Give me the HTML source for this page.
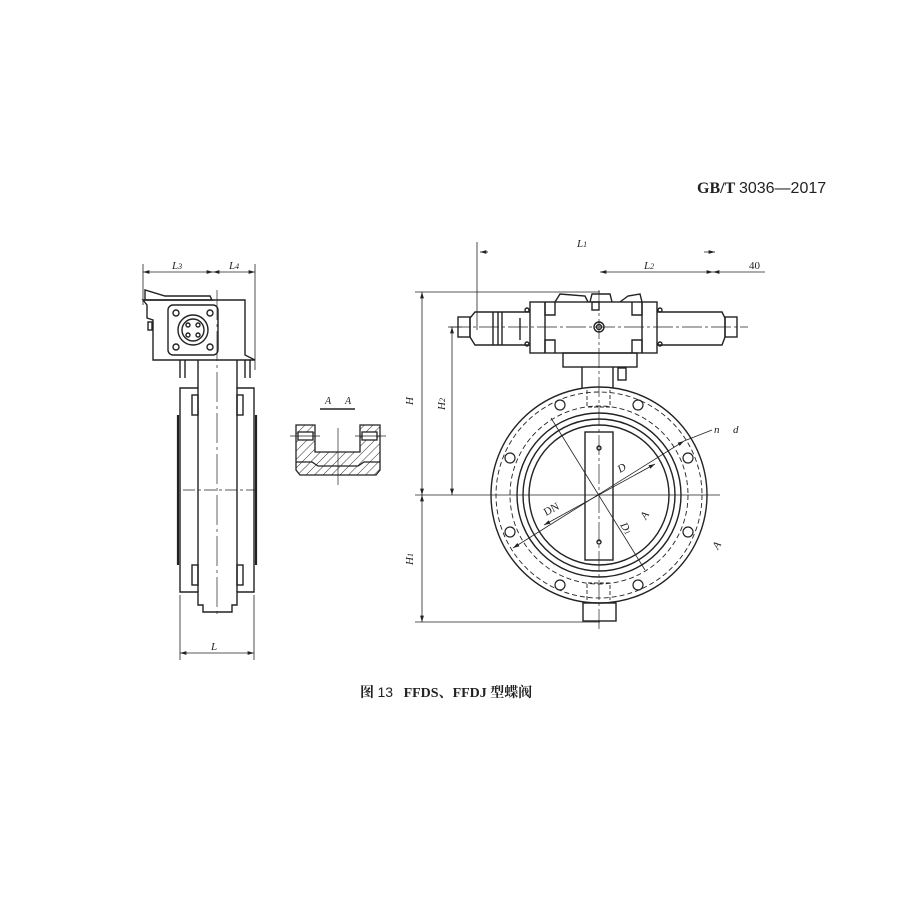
<!DOCTYPE html>
<html><head><meta charset="utf-8"><style>
html,body{margin:0;padding:0;background:#fff;}
svg{display:block}
text{font-family:"Liberation Serif","Noto Serif CJK SC",serif;fill:#222}
</style></head><body>
<svg width="900" height="900" viewBox="0 0 900 900" xmlns="http://www.w3.org/2000/svg">
<defs>
<marker id="ar" viewBox="0 0 10 6" refX="10" refY="3" markerWidth="8" markerHeight="5" orient="auto-start-reverse"><path d="M0,0L10,3L0,6z" fill="#222"/></marker>
<pattern id="hat" width="6" height="6" patternUnits="userSpaceOnUse" patternTransform="rotate(45)"><line x1="0" y1="0" x2="0" y2="6" stroke="#333" stroke-width="1"/></pattern>
</defs>
<rect width="900" height="900" fill="#fff"/>
<text x="697" y="193" font-size="16" font-weight="bold" style="font-family:'Liberation Serif',serif">GB/T <tspan style="font-family:'Liberation Sans',sans-serif;font-weight:normal">3036—2017</tspan></text>
<text x="360" y="697" font-size="14" font-weight="bold" style="font-family:'Liberation Serif','Noto Serif CJK SC',serif;white-space:pre" xml:space="preserve">图 <tspan font-family="Liberation Sans" font-weight="normal">13</tspan>   FFDS、FFDJ 型蝶阀</text>

<g stroke="#222" fill="none" stroke-width="1.4">
<!-- LEFT VIEW -->
<line x1="143" y1="264" x2="143" y2="305" stroke-width="0.8"/>
<line x1="255" y1="264" x2="255" y2="370" stroke-width="0.8"/>
<line x1="143" y1="272" x2="213" y2="272" stroke-width="0.8" marker-start="url(#ar)" marker-end="url(#ar)"/>
<line x1="213" y1="272" x2="255" y2="272" stroke-width="0.8" marker-start="url(#ar)" marker-end="url(#ar)"/>
<path d="M145,300 L145,290 L165,296 L210,296 L212,300 Z"/>
<path d="M143,300 L245,300 L245,355 L255,360 L153,360 L153,320 L147,318 L147,305 Z"/>
<rect x="168" y="305" width="50" height="50" rx="5"/>
<circle cx="193" cy="330" r="15"/><circle cx="193" cy="330" r="11"/>
<circle cx="176" cy="313" r="3"/><circle cx="210" cy="313" r="3"/><circle cx="176" cy="347" r="3"/><circle cx="210" cy="347" r="3"/>
<circle cx="188" cy="325" r="2"/><circle cx="198" cy="325" r="2"/><circle cx="188" cy="335" r="2"/><circle cx="198" cy="335" r="2"/>
<rect x="148" y="322" width="4" height="8"/>
<path d="M180,360 L180,378 M185,360 L185,378 M245,360 L245,378 M250,360 L250,378"/>
<path d="M198,360 L198,388 L180,388 L180,592 L198,592 L198,605 L203,605 L203,612 L232,612 L232,605 L237,605 L237,592 L254,592 L254,388 L237,388 L237,360"/>
<line x1="198" y1="388" x2="198" y2="592"/><line x1="237" y1="388" x2="237" y2="592"/>
<rect x="192" y="395" width="6" height="20"/><rect x="237" y="395" width="6" height="20"/>
<rect x="192" y="565" width="6" height="20"/><rect x="237" y="565" width="6" height="20"/>
<line x1="178" y1="415" x2="178" y2="565" stroke-width="2.2"/><line x1="256" y1="415" x2="256" y2="565" stroke-width="2.2"/>
<line x1="217" y1="290" x2="217" y2="615" stroke-width="0.7" stroke-dasharray="30,4,3,4"/>
<line x1="183" y1="490" x2="255" y2="490" stroke-width="0.7" stroke-dasharray="12,3,3,3"/>
<line x1="180" y1="595" x2="180" y2="660" stroke-width="0.8"/><line x1="254" y1="595" x2="254" y2="660" stroke-width="0.8"/>
<line x1="180" y1="653" x2="254" y2="653" stroke-width="0.8" marker-start="url(#ar)" marker-end="url(#ar)"/>
</g>
<g font-style="italic" font-size="11">
<text x="172" y="269">L<tspan font-size="8">3</tspan></text>
<text x="229" y="269">L<tspan font-size="8">4</tspan></text>
<text x="211" y="650">L</text>
</g>

<!-- SECTION A-A -->
<text x="325" y="404" font-size="10" font-style="italic">A</text><text x="345" y="404" font-size="10" font-style="italic">A</text>
<g stroke="#222" fill="none" stroke-width="1.3">
<line x1="320" y1="409" x2="355" y2="409" stroke-width="1.6"/>
<path d="M296,425 L315,425 L315,452 L360,452 L360,425 L380,425 L380,470 L376,475 L300,475 L296,470 Z" fill="url(#hat)"/>
<rect x="298" y="432" width="15" height="8" fill="#fff"/><rect x="362" y="432" width="15" height="8" fill="#fff"/>
<path d="M296,462 L312,462 L318,466 L358,466 L364,462 L380,462" fill="none"/>
<line x1="338" y1="428" x2="338" y2="485" stroke-width="0.7"/>
<line x1="290" y1="436" x2="320" y2="436" stroke-width="0.7"/><line x1="355" y1="436" x2="386" y2="436" stroke-width="0.7"/>
</g>

<!-- RIGHT VIEW -->
<g stroke="#222" fill="none" stroke-width="1.4">
<line x1="415" y1="292" x2="600" y2="292" stroke-width="0.8"/>
<line x1="415" y1="622" x2="600" y2="622" stroke-width="0.8"/>
<line x1="415" y1="495" x2="720" y2="495" stroke-width="0.8"/>
<line x1="422" y1="292" x2="422" y2="495" stroke-width="0.8" marker-start="url(#ar)" marker-end="url(#ar)"/>
<line x1="422" y1="495" x2="422" y2="622" stroke-width="0.8" marker-start="url(#ar)" marker-end="url(#ar)"/>
<line x1="448" y1="327" x2="462" y2="327" stroke-width="0.8"/>
<line x1="452" y1="327" x2="452" y2="495" stroke-width="0.8" marker-start="url(#ar)" marker-end="url(#ar)"/>
<line x1="477" y1="242" x2="477" y2="330" stroke-width="0.8"/>
<line x1="480" y1="252" x2="488" y2="252" stroke-width="0.8" marker-start="url(#ar)"/>
<line x1="704" y1="252" x2="715" y2="252" stroke-width="0.8" marker-end="url(#ar)"/>
<line x1="600" y1="272" x2="713" y2="272" stroke-width="0.8" marker-start="url(#ar)" marker-end="url(#ar)"/>
<line x1="713" y1="272" x2="765" y2="272" stroke-width="0.8" marker-start="url(#ar)"/>
<rect x="530" y="302" width="127" height="51"/>
<path d="M545,302 L545,315 L555,315 L555,302 M545,353 L545,340 L555,340 L555,353 M632,302 L632,315 L642,315 L642,302 M632,353 L632,340 L642,340 L642,353"/>
<line x1="545" y1="302" x2="545" y2="353"/><line x1="642" y1="302" x2="642" y2="353"/>
<path d="M555,302 L560,294 L585,296 L588,302 M590,302 L592,294 L610,294 L612,302 M620,302 L628,296 L640,294 L642,302"/>
<rect x="592" y="302" width="7" height="8"/>
<circle cx="599" cy="327" r="5"/><circle cx="599" cy="327" r="2.5"/>
<path d="M530,312 L475,312 L470,318 L470,337 L475,345 L530,345"/>
<rect x="458" y="317" width="12" height="20"/>
<path d="M493,312 L493,345 M498,312 L498,345 M502,312 L502,345"/>
<line x1="520" y1="318" x2="520" y2="340"/>
<path d="M657,312 L722,312 L725,318 L725,337 L722,345 L657,345"/>
<rect x="725" y="317" width="12" height="20"/>
<circle cx="527" cy="310" r="2"/><circle cx="527" cy="344" r="2"/><circle cx="660" cy="310" r="2"/><circle cx="660" cy="344" r="2"/>
<line x1="450" y1="327" x2="748" y2="327" stroke-width="0.7" stroke-dasharray="20,3,3,3"/>
<rect x="563" y="353" width="74" height="14"/>
<path d="M582,367 L582,388 M613,367 L613,388"/>
<rect x="618" y="368" width="8" height="12"/>
<line x1="599" y1="290" x2="599" y2="630" stroke-width="0.7" stroke-dasharray="20,3,3,3"/>
<circle cx="599" cy="495" r="108"/>
<circle cx="599" cy="495" r="103" stroke-dasharray="5,3" stroke-width="0.9"/>
<circle cx="599" cy="495" r="89" stroke-dasharray="5,3" stroke-width="0.9"/>
<circle cx="599" cy="495" r="82"/>
<circle cx="599" cy="495" r="76"/>
<circle cx="599" cy="495" r="70"/>
<g stroke-width="1.2">
<circle cx="560" cy="405" r="5"/><circle cx="638" cy="405" r="5"/>
<circle cx="510" cy="458" r="5"/><circle cx="688" cy="458" r="5"/>
<circle cx="510" cy="532" r="5"/><circle cx="688" cy="532" r="5"/>
<circle cx="560" cy="585" r="5"/><circle cx="638" cy="585" r="5"/>
</g>
<path d="M587,390 L587,407 L610,407 L610,390 M587,600 L587,583 L610,583 L610,600" stroke-dasharray="4,2" stroke-width="0.9"/>
<rect x="585" y="432" width="28" height="128"/>
<circle cx="599" cy="448" r="2"/><circle cx="599" cy="542" r="2"/>
<rect x="583" y="603" width="33" height="18"/>
<line x1="551" y1="418" x2="645" y2="570" stroke-width="0.8"/>
<line x1="544" y1="525" x2="655" y2="464" stroke-width="0.8" marker-start="url(#ar)" marker-end="url(#ar)"/>
<line x1="513" y1="548" x2="684" y2="441" stroke-width="0.8" marker-start="url(#ar)" marker-end="url(#ar)"/>
<line x1="684" y1="441" x2="712" y2="430" stroke-width="0.8"/>
</g>
<g font-style="italic" font-size="11">
<text x="577" y="247">L<tspan font-size="8">1</tspan></text>
<text x="644" y="269">L<tspan font-size="8">2</tspan></text>
<text x="749" y="269" font-style="normal">40</text>
<text x="413" y="405" transform="rotate(-90 413 405)">H</text>
<text x="445" y="410" transform="rotate(-90 445 410)">H<tspan font-size="8">2</tspan></text>
<text x="413" y="565" transform="rotate(-90 413 565)">H<tspan font-size="8">1</tspan></text>
<text x="620" y="473" transform="rotate(-30 620 473)">D</text>
<text x="546" y="516" transform="rotate(-28 546 516)" font-style="normal">DN</text>
<text x="620" y="525" transform="rotate(60 620 525)">D<tspan font-size="8">1</tspan></text>
<text x="646" y="520" transform="rotate(-60 646 520)">A</text>
<text x="718" y="550" transform="rotate(-60 718 550)">A</text>
<text x="714" y="433">n</text><text x="733" y="433">d</text>
</g>
</svg>
</body></html>
